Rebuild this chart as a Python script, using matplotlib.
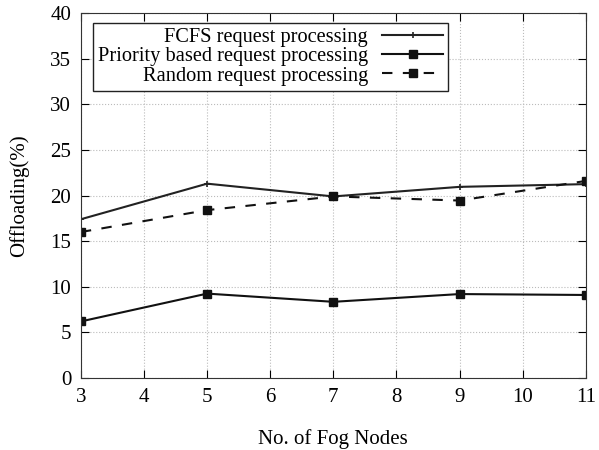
import matplotlib
matplotlib.use("Agg")
import matplotlib.pyplot as plt

# --- data ---
fog_nodes = [3, 5, 7, 9, 11]
fcfs = [17.4, 21.3, 19.9, 20.95, 21.25]
priority = [6.2, 9.25, 8.35, 9.2, 9.1]
random_proc = [16.0, 18.4, 19.9, 19.45, 21.6]

x_ticks = [3, 4, 5, 6, 7, 8, 9, 10, 11]
y_ticks = [0, 5, 10, 15, 20, 25, 30, 35, 40]

plt.rcParams['font.family'] = ['Liberation Serif', 'DejaVu Serif']

fig = plt.figure(figsize=(5.99, 4.5), dpi=100)
ax = fig.add_axes([0.135, 0.16, 0.843, 0.811])

ax.plot(fog_nodes, fcfs, color='#222222', linewidth=1.5, marker='+',
        markersize=5, markeredgewidth=1.2, label='FCFS request processing')
ax.plot(fog_nodes, priority, color='#111111', linewidth=1.5, marker='s',
        markersize=6, label='Priority based request processing')
ax.plot(fog_nodes, random_proc, color='#111111', linewidth=1.5, marker='s',
        markersize=6, linestyle=(0, (5, 5)), label='Random request processing')

ax.set_xlim(3, 11)
ax.set_ylim(0, 40)
ax.set_xticks(x_ticks)
ax.set_yticks(y_ticks)
ax.tick_params(direction='in', top=True, right=True, labelsize=15, length=6, pad=7)
ax.grid(True, color='#bbbbbb', linestyle=':', linewidth=0.8)
for s in ax.spines.values():
    s.set_color('#333333')

ax.set_xlabel('No. of Fog Nodes', fontsize=15, labelpad=16)
ax.set_ylabel('Offloading(%)', fontsize=15, labelpad=15)

leg = ax.legend(loc='upper left', bbox_to_anchor=(0.015, 0.985), fontsize=14.7,
                markerfirst=False, fancybox=False, framealpha=1, edgecolor='#222222',
                borderpad=0.25, labelspacing=0.0, handlelength=3.0,
                handletextpad=0.7, borderaxespad=0.2)
leg.get_frame().set_linewidth(1.0)
for t in leg.get_texts():
    t.set_ha('right')
leg._legend_box.align = 'right'

fig.savefig('out.png', dpi=100)
